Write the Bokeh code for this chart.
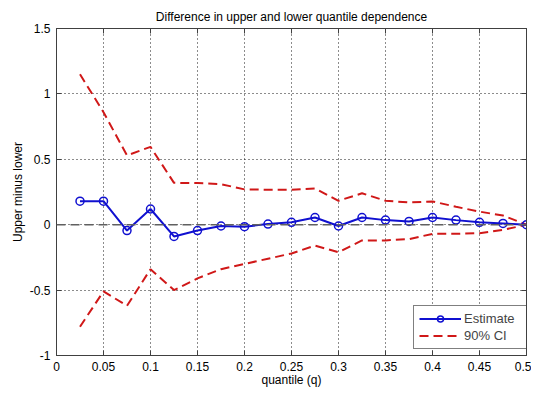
from bokeh.plotting import figure
from bokeh.models import (Span, Legend, LegendItem, LinearAxis, FixedTicker, Range1d, Title)
from bokeh.embed import file_html
from bokeh.resources import INLINE

# ---- data ----
q = [0.025, 0.05, 0.075, 0.1, 0.125, 0.15, 0.175, 0.2, 0.225, 0.25,
     0.275, 0.3, 0.325, 0.35, 0.375, 0.4, 0.425, 0.45, 0.475, 0.5]
estimate = [0.18, 0.18, -0.045, 0.12, -0.09, -0.045, -0.01, -0.015, 0.005, 0.018,
            0.055, -0.01, 0.055, 0.035, 0.025, 0.055, 0.035, 0.018, 0.01, 0.0]
ci_upper = [1.15, 0.86, 0.53, 0.595, 0.32, 0.318, 0.31, 0.27, 0.267, 0.267,
            0.277, 0.183, 0.24, 0.183, 0.17, 0.178, 0.137, 0.10, 0.07, 0.0]
ci_lower = [-0.78, -0.51, -0.62, -0.34, -0.50, -0.41, -0.34, -0.30, -0.26, -0.22,
            -0.16, -0.21, -0.12, -0.12, -0.11, -0.07, -0.07, -0.065, -0.04, 0.0]

x_ticks = [0, 0.05, 0.1, 0.15, 0.2, 0.25, 0.3, 0.35, 0.4, 0.45, 0.5]
x_labels = ["0", "0.05", "0.1", "0.15", "0.2", "0.25", "0.3", "0.35", "0.4", "0.45", "0.5"]
y_ticks = [-1, -0.5, 0, 0.5, 1, 1.5]
y_labels = ["-1", "-0.5", "0", "0.5", "1", "1.5"]

title_text = "Difference in upper and lower quantile dependence"
x_label = "quantile (q)"
y_label = "Upper minus lower"

FONT = "Liberation Sans"
AXIS_COLOR = "#404040"

p = figure(width=531, height=391, output_backend="svg", toolbar_location=None,
           x_range=Range1d(0, 0.5), y_range=Range1d(-1, 1.5),
           min_border_left=56, min_border_right=5, min_border_top=28, min_border_bottom=36)
p.title = Title(text=title_text, align="center", text_font=FONT,
                text_font_size="12px", text_font_style="normal", text_color="#000000")
p.title.offset = 0
p.title.standoff = 10
p.background_fill_color = "white"
p.border_fill_color = "white"
p.outline_line_color = AXIS_COLOR
p.outline_line_width = 1

# axes
for ax, ticks, labels in ((p.xaxis[0], x_ticks, x_labels), (p.yaxis[0], y_ticks, y_labels)):
    ax.ticker = FixedTicker(ticks=ticks)
    ax.major_label_overrides = {t: l for t, l in zip(ticks, labels)}
    ax.major_label_text_font = FONT
    ax.major_label_text_font_size = "12px"
    ax.major_label_text_color = "#000000"
    ax.axis_label_text_font = FONT
    ax.axis_label_text_font_size = "12px"
    ax.axis_label_text_font_style = "normal"
    ax.axis_label_text_color = "#000000"
    ax.axis_line_color = AXIS_COLOR
    ax.major_tick_line_color = AXIS_COLOR
    ax.major_tick_in = 5
    ax.major_tick_out = 0
    ax.minor_tick_line_color = None
p.xaxis[0].axis_label = x_label
p.yaxis[0].axis_label = y_label
p.xaxis[0].major_label_standoff = 6
p.yaxis[0].major_label_standoff = 6
p.xaxis[0].axis_label_standoff = -1
p.yaxis[0].axis_label_standoff = 2

# mirrored ticks (box)
top = LinearAxis(ticker=FixedTicker(ticks=x_ticks), major_label_text_font_size="0px",
                 axis_line_color=AXIS_COLOR, major_tick_line_color=AXIS_COLOR,
                 major_tick_in=5, major_tick_out=0, minor_tick_line_color=None,
                 major_label_standoff=0)
right = LinearAxis(ticker=FixedTicker(ticks=y_ticks), major_label_text_font_size="0px",
                   axis_line_color=AXIS_COLOR, major_tick_line_color=AXIS_COLOR,
                   major_tick_in=5, major_tick_out=0, minor_tick_line_color=None,
                   major_label_standoff=0)
top.major_label_overrides = {t: "" for t in x_ticks}
right.major_label_overrides = {t: "" for t in y_ticks}
p.add_layout(top, "above")
p.add_layout(right, "right")

# grid
for g in (p.xgrid[0], p.ygrid[0]):
    g.grid_line_color = "#000000"
    g.grid_line_dash = "1 3"
    g.grid_line_width = 1
    g.grid_line_alpha = 0.9
p.xgrid[0].ticker = FixedTicker(ticks=x_ticks)
p.ygrid[0].ticker = FixedTicker(ticks=y_ticks)

# zero line
p.add_layout(Span(location=0, dimension="width", line_color="#606060",
                  line_dash="9 5", line_width=1.5))

RED = "#d01818"
BLUE = "#1010d0"

up = p.line(q, ci_upper, line_color=RED, line_dash="9 5", line_width=2)
lo = p.line(q, ci_lower, line_color=RED, line_dash="9 5", line_width=2)
est_l = p.line(q, estimate, line_color=BLUE, line_width=2)
est_c = p.scatter(q, estimate, marker="circle", size=8, fill_color=None,
                  line_color=BLUE, line_width=1.5)

legend = Legend(items=[LegendItem(label="Estimate", renderers=[est_l, est_c]),
                       LegendItem(label="90% CI", renderers=[up])],
                location=(357, 6))
legend.label_text_font = FONT
legend.label_text_font_size = "13px"
legend.border_line_color = "#000000"
legend.border_line_width = 1
legend.background_fill_color = "white"
legend.background_fill_alpha = 1
legend.glyph_width = 42
legend.glyph_height = 15
legend.label_height = 15
legend.label_width = 62
legend.label_standoff = 3
legend.spacing = 2
legend.padding = 5
legend.margin = 0
p.add_layout(legend)

open("out.html", "w").write(file_html(p, INLINE))
